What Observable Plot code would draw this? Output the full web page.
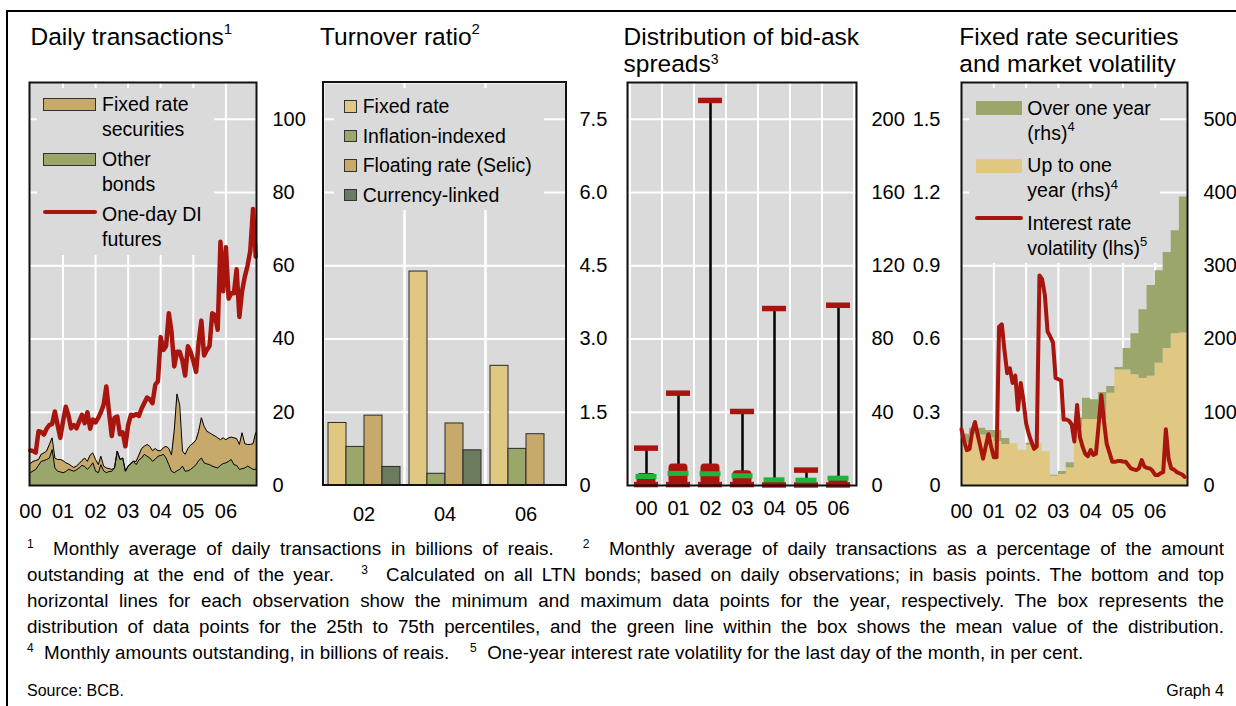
<!DOCTYPE html>
<html><head><meta charset="utf-8">
<script src="https://cdn.jsdelivr.net/npm/d3@7"></script>
<script src="https://cdn.jsdelivr.net/npm/@observablehq/plot@0.6"></script>
<style>
body{margin:0;background:#fff;}
#c{position:relative;width:1236px;height:706px;overflow:hidden;font-family:"Liberation Sans",Arial,sans-serif;color:#000;background:#fff;}
.t{position:absolute;white-space:nowrap;}
.b{position:absolute;box-sizing:border-box;}
.sup{position:relative;line-height:0;}
#c svg{max-width:none !important;}
</style></head><body><div id="c"></div>
<script>
// ---------------- DATA ----------------
// Panel 1: daily transactions (monthly, Jan 2000 - Dec 2006), billions of reais
const diFutures = [9.6,9.4,9.0,14.8,14.6,13.9,15.5,16.5,16.8,20.2,16.5,13.0,
 17.5,21.5,19.3,15.6,16.5,15.6,17.5,19.3,17.0,20.0,15.5,18.0,
 17.2,18.5,20.0,22.0,27.0,20.0,13.5,18.5,18.8,14.0,14.5,10.7,
 16.5,19.3,19.0,19.5,19.0,21.0,22.5,24.0,23.5,22.5,27.5,28.5,
 40.5,37.0,38.0,47.0,42.0,32.5,36.5,36.5,34.0,30.0,38.0,36.5,
 34.0,31.0,39.0,45.0,35.5,37.0,38.0,47.0,46.5,42.5,66.5,53.0,
 65.0,51.0,52.5,52.5,59.0,46.0,53.0,57.0,60.0,64.0,75.5,62.5];
const otherBonds = [3.5,4.0,4.4,5.5,6.6,6.8,7.1,7.5,9.8,4.8,3.9,3.7,
 3.5,3.8,4.4,4.2,3.9,4.3,4.8,5.5,5.2,4.4,5.2,6.2,
 3.9,3.5,5.7,4.0,3.5,3.8,3.9,4.8,9.4,7.1,7.5,3.9,
 5.3,6.0,6.6,5.7,7.0,7.5,8.5,8.0,7.5,6.6,7.2,8.0,
 8.2,8.5,7.5,5.7,3.9,3.5,4.0,4.4,5.3,3.9,4.0,4.4,
 5.0,5.7,6.8,7.5,6.2,5.9,5.7,5.3,5.0,4.8,5.5,6.0,
 6.2,6.6,7.1,5.7,5.5,4.4,4.6,4.8,5.3,4.9,4.4,4.4];
const fixedRateSecurities = [2.5,2.6,2.4,1.6,1.9,2.1,2.3,3.7,3.2,2.7,3.2,3.4,
 3.3,2.4,1.5,1.2,1.0,1.0,1.2,1.3,2.3,2.2,3.1,2.7,
 3.2,2.2,2.3,1.3,1.3,0.8,0.5,0.0,0.0,0.0,0.0,0.0,
 0.0,0.0,0.0,0.9,1.3,2.6,2.2,3.2,3.2,2.9,2.9,1.5,
 1.3,1.8,3.2,4.4,4.4,11.5,21.0,17.6,4.1,4.6,6.1,6.6,
 6.6,6.8,8.0,11.0,10.0,8.9,8.7,8.6,8.5,8.2,7.0,7.0,
 6.3,6.4,6.1,7.3,7.3,6.8,9.8,6.6,5.9,6.3,7.0,10.0];

// Panel 2: turnover ratio, per cent
const turnoverYears = ["02","04","06"];
const bondTypes = ["Fixed rate","Inflation-indexed","Floating rate (Selic)","Currency-linked"];
const turnoverFixed = [1.28, 4.38, 2.45];
const turnoverInflation = [0.79, 0.24, 0.75];
const turnoverFloating = [1.43, 1.27, 1.05];
const turnoverCurrency = [0.38, 0.72, 0.01];

// Panel 3: bid-ask spreads, basis points
const spreadYears = ["00","01","02","03","04","05","06"];
const spreadMin  = [0.5, 0.5, 0.5, 0.5, 0.3, 0.3, 0.3];
const spreadQ1   = [0.4, 0.6, 0.6, 0.5, 0.3, 0.3, 0.3];
const spreadQ3   = [6.6, 11.7, 11.7, 8.0, 3.6, 3.0, 3.8];
const spreadMean = [4.9, 6.6, 6.4, 5.3, 3.1, 2.9, 4.0];
const spreadMax  = [20.4, 50.4, 210.2, 40.4, 96.6, 8.4, 98.4];

// Panel 4: outstanding fixed rate securities (quarterly, Q1 2000 - Q4 2006), billions of reais
const upToOneYear = [58,70,69,65,60,56,57,48,55,57,46,12.5,15,24,
 78,90,90,90,126,157.5,157.5,151,146,149,167,187,207,208];
const overOneYear = [12,8,9,10,15,8,0,0,2.5,0,0,1.5,4,7,
 14,29,27,37,9,3.5,29.5,56,94,124,126,131,140.6,185.8];
// interest rate volatility (monthly), per cent
const volatility = [0.23,0.18,0.145,0.15,0.22,0.26,0.21,0.16,0.11,0.16,0.21,0.16,
 0.116,0.116,0.65,0.66,0.555,0.46,0.48,0.42,0.45,0.31,0.42,0.35,
 0.255,0.21,0.18,0.15,0.16,0.86,0.845,0.78,0.63,0.61,0.585,0.44,
 0.435,0.43,0.27,0.27,0.265,0.25,0.18,0.33,0.2,0.16,0.13,0.12,
 0.145,0.125,0.13,0.25,0.37,0.26,0.17,0.135,0.097,0.097,0.1,0.1,
 0.098,0.097,0.084,0.07,0.066,0.063,0.07,0.104,0.077,0.072,0.07,0.06,
 0.043,0.043,0.05,0.055,0.23,0.11,0.07,0.065,0.055,0.05,0.045,0.035];

// ---------------- STYLE ----------------
const FONT = "'Liberation Sans', Arial, sans-serif";
const BG = "#dadada", RED = "#a8150f", TAN = "#c8a96c", OLIVE = "#9ba66b",
      YEL = "#e0c882", DARKG = "#6b7b5e", MEANG = "#1fb53d", FRAME = "#111";
const FT = 82, FB = 485, MT = 10, MB = 45;
const C = document.getElementById("c");

function put(node, left) {
  const w = document.createElement("div");
  const W = +node.getAttribute("width"), H = +node.getAttribute("height");
  Object.assign(w.style, {position: "absolute", left: left + "px", top: (FT - MT) + "px", width: W + "px", height: H + "px"});
  node.style.maxWidth = "none"; node.style.width = W + "px"; node.style.height = H + "px";
  w.appendChild(node); C.appendChild(w);
}
// place text so that its first baseline sits at `base`
function txt(x, base, html, fs, lh, extra) {
  lh = lh || fs;
  const d = document.createElement("div");
  d.className = "t";
  d.style.left = x + "px";
  d.style.top = (base - ((lh - 1.117 * fs) / 2 + 0.905 * fs)) + "px";
  d.style.fontSize = fs + "px"; d.style.lineHeight = lh + "px";
  if (extra) Object.assign(d.style, extra);
  d.innerHTML = html; C.appendChild(d); return d;
}
function box(l, t, w, h, style) {
  const d = document.createElement("div"); d.className = "b";
  Object.assign(d.style, {left: l + "px", top: t + "px", width: w + "px", height: h + "px"}, style);
  C.appendChild(d); return d;
}
const sup = (n, fs, up) => `<span class="sup" style="font-size:${fs}px;top:-${up}px">${n}</span>`;
const baseStyle = {fontFamily: FONT, fontSize: "20px", color: "black", background: "transparent", overflow: "visible"};
const yearTicks = d3.range(2000, 2007).map(y => new Date(Date.UTC(y, 0, 1)));
const monthDate = i => new Date(Date.UTC(2000, i, 1));
const dec1 = d => d === 0 ? "0" : d.toFixed(1);

// ---------------- PANEL 1 ----------------
const dailyRows = [];
otherBonds.forEach((v, i) => {
  dailyRows.push({date: monthDate(i), series: "Other bonds", value: v});
  dailyRows.push({date: monthDate(i), series: "Fixed rate securities", value: fixedRateSecurities[i]});
});
const diRows = diFutures.map((v, i) => ({date: monthDate(i), value: v}));
const p1W = 227;
put(Plot.plot({
  width: 10 + p1W + 60, height: MT + (FB - FT) + MB,
  marginLeft: 10, marginRight: 60, marginTop: MT, marginBottom: MB,
  style: baseStyle,
  x: {type: "utc", domain: [new Date(Date.UTC(1999, 11, 22)), new Date(Date.UTC(2006, 11, 10))],
      ticks: yearTicks, tickFormat: d3.utcFormat("%y"), tickSize: 0, tickPadding: 18, label: null},
  y: {domain: [0, 110], ticks: [0, 20, 40, 60, 80, 100], axis: "right", tickSize: 0, tickPadding: 16, label: null},
  color: {domain: ["Other bonds", "Fixed rate securities"], range: [OLIVE, TAN]},
  marks: [
    Plot.frame({fill: BG}),
    Plot.ruleX(yearTicks.slice(1), {stroke: "white", strokeWidth: 2}),
    Plot.ruleY([20, 40, 60, 80, 100], {stroke: "white", strokeWidth: 2}),
    Plot.areaY(dailyRows, Plot.stackY({x: "date", y: "value", z: "series", fill: "series"})),
    Plot.lineY(dailyRows, Plot.stackY2({x: "date", y: "value", z: "series", stroke: "black", strokeWidth: 1})),
    Plot.lineY(diRows, {x: "date", y: "value", stroke: RED, strokeWidth: 4.5}),
    Plot.frame({stroke: FRAME, strokeWidth: 2})
  ]
}), 29 - 10);

// ---------------- PANEL 2 ----------------
const turnoverRows = [];
turnoverYears.forEach((y, i) => {
  [turnoverFixed, turnoverInflation, turnoverFloating, turnoverCurrency].forEach((arr, j) => {
    turnoverRows.push({year: y, type: bondTypes[j], value: arr[i]});
  });
});
const p2W = 243;
put(Plot.plot({
  width: 10 + p2W + 60, height: MT + (FB - FT) + MB,
  marginLeft: 10, marginRight: 60, marginTop: MT, marginBottom: MB,
  style: baseStyle,
  facet: {data: turnoverRows, x: "year"},
  fx: {domain: turnoverYears, padding: 0, axis: "bottom", tickSize: 0, tickPadding: 21, label: null},
  x: {domain: bondTypes, paddingInner: 0, paddingOuter: 0.25, axis: null},
  y: {domain: [0, 8.25], ticks: [0, 1.5, 3, 4.5, 6, 7.5], tickFormat: dec1, axis: "right", tickSize: 0, tickPadding: 13, label: null},
  color: {domain: bondTypes, range: [YEL, OLIVE, TAN, DARKG]},
  marks: [
    Plot.frame({fill: BG}),
    Plot.ruleY([1.5, 3, 4.5, 6, 7.5], {stroke: "white", strokeWidth: 2}),
    Plot.frame({stroke: "white", strokeWidth: 2}),
    Plot.barY(turnoverRows, {x: "type", y: "value", fill: "type", stroke: "#2a2a2a", strokeWidth: 1})
  ]
}), 323 - 10);
box(322, FT - 1, p2W + 2, FB - FT + 2, {border: "2px solid " + FRAME});

// ---------------- PANEL 3 ----------------
const spreads = spreadYears.map((y, i) => ({year: y, min: spreadMin[i], q1: spreadQ1[i], q3: spreadQ3[i], mean: spreadMean[i], max: spreadMax[i]}));
const p3W = 229;
put(Plot.plot({
  width: 10 + p3W + 60, height: MT + (FB - FT) + MB,
  marginLeft: 10, marginRight: 60, marginTop: MT, marginBottom: MB,
  style: baseStyle,
  x: {type: "band", domain: spreadYears, padding: 0, tickSize: 0, tickPadding: 15, label: null},
  y: {domain: [0, 220], ticks: [0, 40, 80, 120, 160, 200], axis: "right", tickSize: 0, tickPadding: 15, label: null},
  marks: [
    Plot.frame({fill: BG}),
    Plot.barY(spreadYears, {x: d => d, y1: 0, y2: 220, insetTop: -8, insetBottom: -8, fill: "none", stroke: "white", strokeWidth: 2}),
    Plot.ruleY([40, 80, 120, 160, 200], {stroke: "white", strokeWidth: 2}),
    Plot.ruleX(spreads, {x: "year", y1: "min", y2: "max", stroke: "black", strokeWidth: 2.5}),
    Plot.tickY(spreads, {x: "year", y: "max", stroke: RED, strokeWidth: 5.5, insetLeft: 4, insetRight: 4}),
    Plot.tickY(spreads, {x: "year", y: "min", stroke: RED, strokeWidth: 5.5, insetLeft: 4, insetRight: 4}),
    Plot.barY(spreads, {x: "year", y1: "q1", y2: "q3", fill: RED, insetLeft: 6.5, insetRight: 6.5, rx: 4}),
    Plot.tickY(spreads, {x: "year", y: "mean", stroke: MEANG, strokeWidth: 5, insetLeft: 5.5, insetRight: 5.5}),
    Plot.frame({stroke: FRAME, strokeWidth: 2})
  ]
}), 627 - 10);

// ---------------- PANEL 4 ----------------
const qDates = upToOneYear.map((_, k) => new Date(Date.UTC(2000, 3 * k, 1))).concat([new Date(Date.UTC(2007, 0, 1))]);
const qRows = [];
qDates.forEach((d, k) => {
  const i = Math.min(k, upToOneYear.length - 1);
  qRows.push({date: d, series: "Up to one year", value: upToOneYear[i]});
  qRows.push({date: d, series: "Over one year", value: overOneYear[i]});
});
const volRows = volatility.map((v, i) => ({date: monthDate(i), value: v}));
const p4W = 226;
const xDom4 = [new Date(Date.UTC(2000, 0, 1)), new Date(Date.UTC(2007, 0, 1))];
const p4 = {width: 60 + p4W + 60, height: MT + (FB - FT) + MB, marginLeft: 60, marginRight: 60, marginTop: MT, marginBottom: MB, style: baseStyle};
put(Plot.plot({
  ...p4,
  x: {type: "utc", domain: xDom4, ticks: yearTicks, tickFormat: d3.utcFormat("%y"), tickSize: 0, tickPadding: 18, label: null},
  y: {domain: [0, 550], ticks: [0, 100, 200, 300, 400, 500], axis: "right", tickSize: 0, tickPadding: 16, label: null},
  color: {domain: ["Up to one year", "Over one year"], range: [YEL, OLIVE]},
  marks: [
    Plot.frame({fill: BG}),
    Plot.ruleX(yearTicks.slice(1), {stroke: "white", strokeWidth: 2}),
    Plot.ruleY([100, 200, 300, 400, 500], {stroke: "white", strokeWidth: 2}),
    Plot.areaY(qRows, Plot.stackY({x: "date", y: "value", z: "series", fill: "series", curve: "step-after"})),
    Plot.frame({stroke: FRAME, strokeWidth: 2})
  ]
}), 961 - 60);
put(Plot.plot({
  ...p4,
  x: {type: "utc", domain: xDom4, axis: null},
  y: {domain: [0, 1.65], ticks: [0, 0.3, 0.6, 0.9, 1.2, 1.5], tickFormat: dec1, axis: "left", tickSize: 0, tickPadding: 21, label: null},
  marks: [
    Plot.lineY(volRows, {x: "date", y: "value", stroke: RED, strokeWidth: 4})
  ]
}), 961 - 60);

// ---------------- LEGENDS ----------------
const LF = 19.5, LL = 25;
// panel 1
box(37, 88, 177, 167, {background: BG});
box(43, 98, 53, 12.5, {background: TAN, border: "1px solid #333"});
txt(102, 111.7, "Fixed rate<br>securities", LF, LL);
box(43, 153, 53, 12.5, {background: OLIVE, border: "1px solid #333"});
txt(102, 166.7, "Other<br>bonds", LF, LL);
box(43, 209.5, 54, 4.5, {background: RED, borderRadius: "2px"});
txt(102, 221.5, "One-day DI<br>futures", LF, LL);
// panel 2
box(334, 88, 210, 122, {background: BG});
[YEL, OLIVE, TAN, DARKG].forEach((c, j) => {
  box(344.3, 100 + 29.5 * j, 12.5, 12.5, {background: c, border: "1px solid #333"});
});
txt(362.7, 114, bondTypes.join("<br>"), LF, 29.5);
// panel 4
box(969, 88, 191, 175, {background: BG});
box(976, 101, 46, 14, {background: OLIVE});
txt(1027.3, 115, "Over one year<br>(rhs)" + sup(4, 13, 8.5), LF, LL);
box(976, 158.5, 46, 14, {background: YEL});
txt(1027.3, 172.5, "Up to one<br>year (rhs)" + sup(4, 13, 8.5), LF, LL);
box(975, 216.3, 48, 4, {background: RED, borderRadius: "2px"});
txt(1027.3, 230, "Interest rate<br>volatility (lhs)" + sup(5, 13, 8.5), LF, LL);

// ---------------- TITLES ----------------
const TF = 24.5, TL = 27.4;
txt(30.5, 45.2, "Daily transactions" + sup(1, 15, 11), TF, TL);
txt(320, 45.2, "Turnover ratio" + sup(2, 15, 11), TF, TL);
txt(623.5, 45.2, "Distribution of bid-ask<br>spreads" + sup(3, 14, 8.5), TF, TL);
txt(959.3, 45.2, "Fixed rate securities<br>and market volatility", TF, TL);

// ---------------- FOOTNOTES ----------------
const FF = 18.8, FL = 26, FW = 1197;
const fn = [
  sup(1, 12, 7) + "&nbsp;&nbsp;Monthly average of daily transactions in billions of reais. &nbsp; " + sup(2, 12, 7) + "&nbsp;&nbsp;Monthly average of daily transactions as a percentage of the amount",
  "outstanding at the end of the year. &nbsp; " + sup(3, 12, 7) + "&nbsp;&nbsp;Calculated on all LTN bonds; based on daily observations; in basis points. The bottom and top",
  "horizontal lines for each observation show the minimum and maximum data points for the year, respectively. The box represents the",
  "distribution of data points for the 25th to 75th percentiles, and the green line within the box shows the mean value of the distribution.",
  sup(4, 12, 7) + "&nbsp;&nbsp;Monthly amounts outstanding, in billions of reais. &nbsp;&nbsp; " + sup(5, 12, 7) + "&nbsp;&nbsp;One-year interest rate volatility for the last day of the month, in per cent."
];
fn.forEach((h, i) => {
  txt(27, 556 + 26 * i, h, FF, FL, {
    width: FW + "px", whiteSpace: "normal",
    textAlign: i < 4 ? "justify" : "left", textAlignLast: i < 4 ? "justify" : "auto"
  });
});
txt(27, 697, "Source: BCB.", 16, 20);
txt(1224 - 300, 697, "Graph 4", 16, 20, {width: "300px", textAlign: "right"});

// ---------------- BORDERS ----------------
box(6, 9.5, 1230, 2, {background: "#000"});
box(6, 9.5, 2, 697, {background: "#000"});
</script></body></html>
